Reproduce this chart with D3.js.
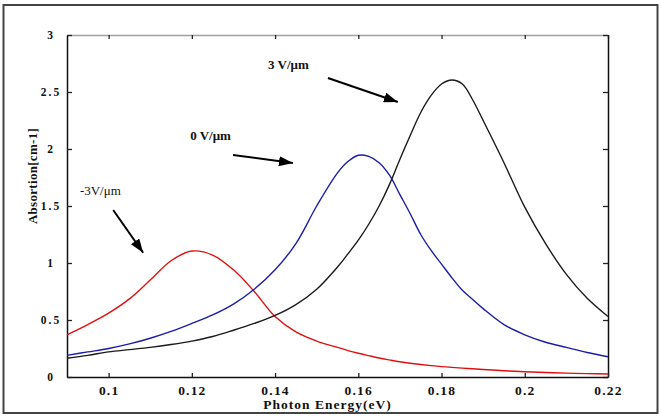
<!DOCTYPE html>
<html>
<head>
<meta charset="utf-8">
<script src="https://cdn.jsdelivr.net/npm/d3@7"></script>
<style>
  html, body { margin: 0; padding: 0; background: #fff; }
  svg { display: block; }
  text { font-family: "Liberation Serif", "Times New Roman", serif; }
</style>
</head>
<body>
<svg id="chart" width="661" height="416"></svg>
<script>
// ---- data ----
const energy = [0.09, 0.095, 0.10, 0.105, 0.11, 0.115, 0.12, 0.125, 0.13, 0.135, 0.14, 0.145, 0.15,
                0.155, 0.1575, 0.16, 0.1625, 0.165, 0.1675, 0.17, 0.1725, 0.175, 0.1775, 0.18, 0.1825,
                0.185, 0.1875, 0.19, 0.195, 0.20, 0.205, 0.21, 0.215, 0.22];
const absNeg3 = [0.37, 0.46, 0.56, 0.685, 0.85, 1.02, 1.105, 1.07, 0.94, 0.75, 0.53, 0.395, 0.315,
                 0.26, 0.232, 0.208, 0.187, 0.167, 0.150, 0.134, 0.121, 0.110, 0.100, 0.091, 0.084,
                 0.078, 0.072, 0.066, 0.055, 0.046, 0.040, 0.034, 0.030, 0.026];
const abs0 = [0.19, 0.22, 0.25, 0.29, 0.34, 0.40, 0.47, 0.545, 0.64, 0.77, 0.94, 1.17, 1.50,
              1.79, 1.89, 1.945, 1.935, 1.88, 1.77, 1.60, 1.43, 1.25, 1.11, 0.99, 0.87,
              0.76, 0.68, 0.60, 0.46, 0.37, 0.305, 0.26, 0.215, 0.178];
const abs3 = [0.165, 0.19, 0.22, 0.24, 0.26, 0.285, 0.315, 0.355, 0.41, 0.47, 0.54, 0.635, 0.77,
              0.965, 1.08, 1.20, 1.34, 1.50, 1.69, 1.91, 2.12, 2.32, 2.47, 2.57, 2.605,
              2.57, 2.43, 2.25, 1.88, 1.49, 1.17, 0.90, 0.69, 0.53];
const seriesNames = ["-3V/μm", "0 V/μm", "3 V/μm"];
const seriesColors = ["#e01010", "#1c1ca8", "#1a1a1a"];
const xTicks = [0.1, 0.12, 0.14, 0.16, 0.18, 0.2, 0.22];
const xTickLabels = ["0.1", "0.12", "0.14", "0.16", "0.18", "0.2", "0.22"];
const yTicks = [0, 0.5, 1, 1.5, 2, 2.5, 3];
const yTickLabels = ["0", "0.5", "1", "1.5", "2", "2.5", "3"];
const xTitle = "Photon Energy(eV)";
const yTitle = "Absortion[cm-1]";
// annotations: label anchor (left, baseline) and arrow start/tip in data units
const annLabels = [
  {text: "-3V/μm", e: 0.0931, v: 1.60, bold: false},
  {text: "0 V/μm", e: 0.1196, v: 2.08, bold: true},
  {text: "3 V/μm", e: 0.1383, v: 2.70, bold: true}
];
const annArrows = [
  {e1: 0.1011, v1: 1.465, e2: 0.1083, v2: 1.090},
  {e1: 0.1299, v1: 1.947, e2: 0.1443, v2: 1.877},
  {e1: 0.1527, v1: 2.623, e2: 0.1695, v2: 2.412}
];

// ---- layout ----
const svg = d3.select("#chart");
const L = 67, R = 608, T = 35, B = 377;
const x = d3.scaleLinear().domain([0.09, 0.22]).range([L, R]);
const y = d3.scaleLinear().domain([0, 3]).range([B, T]);
const FONT = '"Liberation Serif", "Times New Roman", serif';

// outer frame
svg.append("rect").attr("x", 3.5).attr("y", 5).attr("width", 654).attr("height", 408)
  .attr("fill", "none").attr("stroke", "#444").attr("stroke-width", 2);

// axes
const gTop = svg.append("g").attr("transform", `translate(0,${T})`)
  .call(d3.axisTop(x).tickValues(xTicks).tickSizeInner(-4).tickSizeOuter(0).tickFormat(""));
gTop.select(".domain").attr("stroke", "#a0a0a0").attr("stroke-width", 1.5);
gTop.selectAll(".tick line").attr("stroke", "#222").attr("stroke-width", 1.3);

const gRight = svg.append("g").attr("transform", `translate(${R},0)`)
  .call(d3.axisRight(y).tickValues(yTicks).tickSizeInner(-5).tickSizeOuter(0).tickFormat(""));
gRight.select(".domain").attr("stroke", "#111").attr("stroke-width", 1.5);
gRight.selectAll(".tick line").attr("stroke", "#222").attr("stroke-width", 1.3);

const gBottom = svg.append("g").attr("transform", `translate(0,${B})`)
  .call(d3.axisBottom(x).tickValues(xTicks).tickSizeInner(-4).tickSizeOuter(0).tickPadding(8)
    .tickFormat((d, i) => xTickLabels[i]));
gBottom.select(".domain").attr("stroke", "#111").attr("stroke-width", 1.5);
gBottom.selectAll(".tick line").attr("stroke", "#222").attr("stroke-width", 1.3);
gBottom.selectAll(".tick text").style("font-family", FONT)
  .style("font-size", "13.5px").style("font-weight", "bold").attr("fill", "#111")
  .style("letter-spacing", "1.2px");

const gLeft = svg.append("g").attr("transform", `translate(${L},0)`)
  .call(d3.axisLeft(y).tickValues(yTicks).tickSizeInner(-5).tickSizeOuter(0).tickPadding(16)
    .tickFormat((d, i) => yTickLabels[i]));
gLeft.select(".domain").attr("stroke", "#111").attr("stroke-width", 1.5);
gLeft.selectAll(".tick line").attr("stroke", "#222").attr("stroke-width", 1.3);
gLeft.selectAll(".tick text").style("font-family", FONT)
  .style("font-size", "11.5px").style("font-weight", "bold").attr("fill", "#111")
  .style("letter-spacing", "2px").attr("text-anchor", "middle").attr("dy", "0.3em");

// axis titles
svg.append("text").attr("x", (L + R) / 2 - 10).attr("y", 409).attr("text-anchor", "middle")
  .style("font-family", FONT).style("font-size", "13.5px").style("font-weight", "bold").attr("fill", "#111")
  .style("letter-spacing", "1px").text(xTitle);
svg.append("text").attr("transform", `translate(37,${(T + B) / 2 - 30}) rotate(-90)`)
  .attr("text-anchor", "middle").style("font-family", FONT).style("font-size", "13px")
  .style("font-weight", "bold").attr("fill", "#111")
  .style("letter-spacing", "0.3px").text(yTitle);

// curves
const series = [absNeg3, abs0, abs3];
const line = d3.line().x(d => x(d[0])).y(d => y(d[1])).curve(d3.curveCatmullRom.alpha(0.5));
series.forEach((vals, i) => {
  svg.append("path")
    .datum(energy.map((e, j) => [e, vals[j]]))
    .attr("fill", "none").attr("stroke", seriesColors[i]).attr("stroke-width", 1.4)
    .attr("d", line);
});

// annotations
const defs = svg.append("defs");
defs.append("marker").attr("id", "ah").attr("markerUnits", "userSpaceOnUse")
  .attr("viewBox", "0 0 14 10").attr("refX", 14).attr("refY", 5)
  .attr("markerWidth", 14).attr("markerHeight", 10).attr("orient", "auto")
  .append("path").attr("d", "M0,0 L14,5 L0,10 Z").attr("fill", "#000");

annArrows.forEach(a => {
  svg.append("line").attr("x1", x(a.e1)).attr("y1", y(a.v1)).attr("x2", x(a.e2)).attr("y2", y(a.v2))
    .attr("stroke", "#000").attr("stroke-width", 2).attr("marker-end", "url(#ah)");
});
annLabels.forEach(a => {
  svg.append("text").attr("x", x(a.e)).attr("y", y(a.v))
    .style("font-family", FONT).style("font-size", "13px")
    .style("font-weight", a.bold ? "bold" : "normal").attr("fill", "#111")
    .text(a.text);
});
</script>
</body>
</html>
